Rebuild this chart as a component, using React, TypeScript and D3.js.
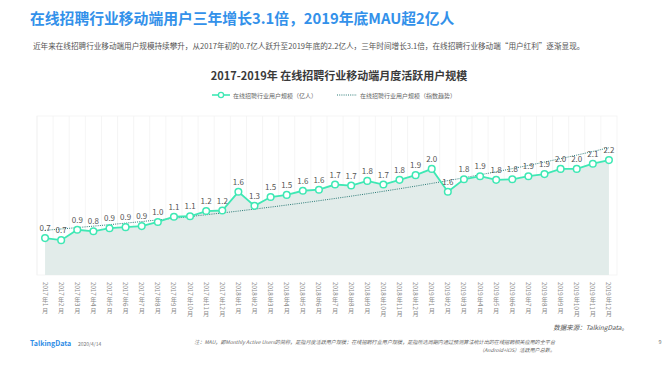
import React from "react";
import * as d3 from "d3";

const months: string[] = [
  "2017年1月","2017年2月","2017年3月","2017年4月","2017年5月","2017年6月",
  "2017年7月","2017年8月","2017年9月","2017年10月","2017年11月","2017年12月",
  "2018年1月","2018年2月","2018年3月","2018年4月","2018年5月","2018年6月",
  "2018年7月","2018年8月","2018年9月","2018年10月","2018年11月","2018年12月",
  "2019年1月","2019年2月","2019年3月","2019年4月","2019年5月","2019年6月",
  "2019年7月","2019年8月","2019年9月","2019年10月","2019年11月","2019年12月",
];

const mau: number[] = [
  0.71, 0.67, 0.87, 0.84, 0.90, 0.92, 0.94, 1.02, 1.12, 1.13, 1.23, 1.24,
  1.60, 1.33, 1.50, 1.54, 1.62, 1.64, 1.74, 1.72, 1.81, 1.74, 1.83, 1.92,
  2.04, 1.60, 1.84, 1.90, 1.83, 1.84, 1.90, 1.94, 2.04, 2.04, 2.14, 2.21,
];

const titleText = "在线招聘行业移动端用户三年增长3.1倍，2019年底MAU超2亿人";
const subtitleText =
  "近年来在线招聘行业移动端用户规模持续攀升，从2017年初的0.7亿人跃升至2019年底的2.2亿人，三年时间增长3.1倍，在线招聘行业移动端“用户红利”逐渐显现。";
const chartTitle = "2017-2019年  在线招聘行业移动端月度活跃用户规模";
const legendLabels = ["在线招聘行业用户规模（亿人）", "在线招聘行业用户规模（指数趋势）"];
const sourceText = "数据来源：TalkingData。";
const noteLines = [
  "注：MAU，即Monthly Active Users的简称，是指月度活跃用户规模；在线招聘行业用户规模，是指所选周期内通过预测算法统计出的在线招聘相关应用的全平台",
  "（Android+iOS）活跃用户总数。",
];

const W = 670;
const H = 366;
const FONT = "'Noto Sans CJK SC', 'Noto Sans', sans-serif";

function VerticalLabel({ text, x, y, fs }: { text: string; x: number; y: number; fs: number }) {
  const tokens = text.match(/\d+|[^\d]/g) || [];
  let cur = y;
  const els: React.ReactNode[] = [];
  tokens.forEach((t, i) => {
    if (/^\d+$/.test(t)) {
      els.push(
        <text
          key={i}
          x={x}
          y={cur}
          fontSize={fs}
          fill="#8a8a8a"
          dominantBaseline="central"
          transform={`rotate(90, ${x}, ${cur})`}
        >
          {t}
        </text>
      );
      cur += t.length * fs * 0.56 + 0.5;
    } else {
      els.push(
        <text key={i} x={x} y={cur + fs * 0.88} fontSize={fs} fill="#8a8a8a" textAnchor="middle">
          {t}
        </text>
      );
      cur += fs + 0.5;
    }
  });
  return <g>{els}</g>;
}

export default function App() {
  const x = d3.scaleBand<string>().domain(months).range([37, 617]).padding(0);
  const cx = (m: string) => (x(m) as number) + x.bandwidth() / 2;
  const y = d3.scaleLinear().domain([0, 3]).range([275, 119]);

  // exponential trend fit (least squares on ln values)
  const idx = mau.map((_, i) => i);
  const lnv = mau.map((v) => Math.log(v));
  const mx = d3.mean(idx) as number;
  const my = d3.mean(lnv) as number;
  const b =
    (d3.sum(idx, (i) => (i - mx) * (lnv[i] - my)) as number) /
    (d3.sum(idx, (i) => (i - mx) * (i - mx)) as number);
  const a = my - b * mx;
  const trend = idx.map((i) => Math.exp(a + b * i));

  const line = d3
    .line<number>()
    .x((_, i) => cx(months[i]))
    .y((d) => y(d));
  const area = d3
    .area<number>()
    .x((_, i) => cx(months[i]))
    .y0(y(0))
    .y1((d) => y(d));

  const fmt = d3.format(".1f");
  const green = "#3fe8b4";

  return (
    <svg
      width={W}
      height={H}
      style={{ position: "absolute", left: 0, top: 0, background: "#fff" }}
      fontFamily={FONT}
    >
      <rect x={0} y={0} width={W} height={H} fill="#fff" />
      <text x={30} y={24} fontSize={14.8} fontWeight="bold" fill="#3391ea">
        {titleText}
      </text>
      <text x={33} y={49} fontSize={7.6} fill="#555">
        {subtitleText}
      </text>
      <text x={339} y={80} fontSize={11} fontWeight="bold" fill="#3a3a3a" textAnchor="middle">
        {chartTitle}
      </text>

      {/* legend */}
      <line x1={212} x2={230} y1={95} y2={95} stroke={green} strokeWidth={1.6} />
      <circle cx={221} cy={95} r={2.6} fill="#fff" stroke={green} strokeWidth={1.3} />
      <text x={233} y={97.5} fontSize={6} fill="#666">
        {legendLabels[0]}
      </text>
      <line x1={337} x2={357} y1={95} y2={95} stroke="#2a7a76" strokeWidth={1} strokeDasharray="1 1.2" />
      <text x={360} y={97.5} fontSize={6} fill="#666">
        {legendLabels[1]}
      </text>

      {/* grid */}
      <rect x={37} y={116} width={580} height={159} fill="none" stroke="#f2f2f2" strokeWidth={0.8} />
      {months.map((m) => (
        <line
          key={"g" + m}
          x1={x(m) as number}
          x2={x(m) as number}
          y1={116}
          y2={275}
          stroke="#f2f2f2"
          strokeWidth={0.8}
        />
      ))}

      <path d={area(mau) as string} fill="#e2ecea" />
      <path d={line(trend) as string} fill="none" stroke="#2a7a76" strokeWidth={1} strokeDasharray="1 1.2" />
      <path d={line(mau) as string} fill="none" stroke={green} strokeWidth={1.8} />
      {mau.map((v, i) => (
        <circle
          key={"c" + i}
          cx={cx(months[i])}
          cy={y(v)}
          r={3.3}
          fill="#fff"
          stroke={green}
          strokeWidth={1.5}
        />
      ))}
      {mau.map((v, i) => (
        <text
          key={"l" + i}
          x={cx(months[i])}
          y={y(v) - 7}
          fontSize={8}
          fill="#555"
          textAnchor="middle"
        >
          {fmt(v)}
        </text>
      ))}

      {/* x labels */}
      {months.map((m) => (
        <VerticalLabel key={"x" + m} text={m} x={cx(m)} y={282} fs={6.2} />
      ))}

      {/* footer */}
      <text x={628} y={330} fontSize={6.5} fill="#555" fontStyle="italic" textAnchor="end">
        {sourceText}
      </text>
      <text x={30} y={346} fontSize={7} fill="#2e8de6" fontWeight="bold">
        TalkingData
      </text>
      <text x={78} y={346} fontSize={5} fill="#777">
        2020/4/14
      </text>
      <text x={555} y={344} fontSize={5.1} fill="#666" fontStyle="italic" textAnchor="end">
        {noteLines[0]}
      </text>
      <text x={555} y={352} fontSize={5.1} fill="#666" fontStyle="italic" textAnchor="end">
        {noteLines[1]}
      </text>
      <text x={660} y={344} fontSize={5.5} fill="#777" textAnchor="middle">
        9
      </text>
    </svg>
  );
}
